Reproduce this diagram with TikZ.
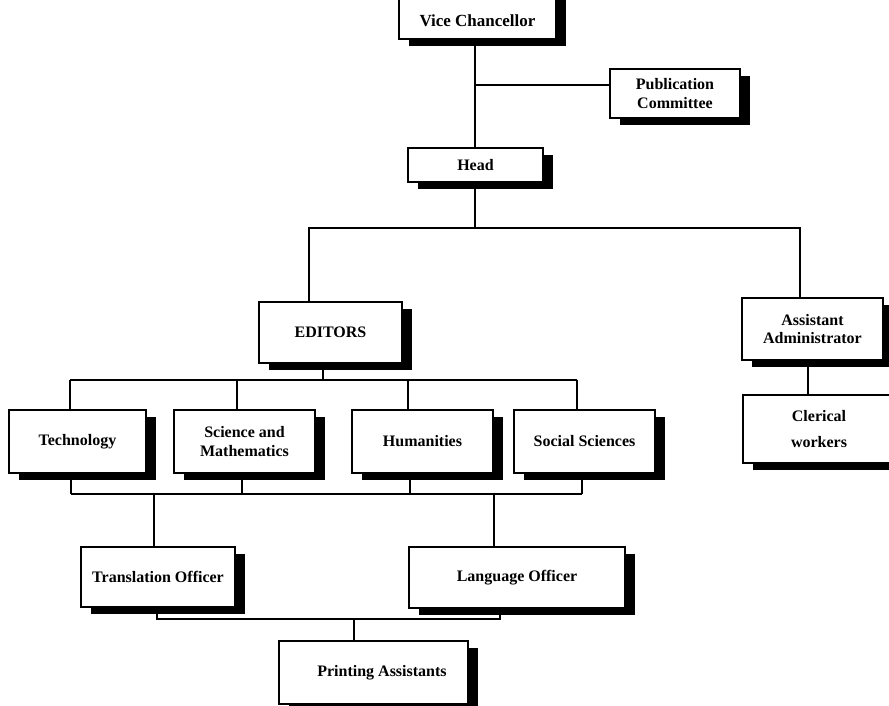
\documentclass[tikz,border=0pt]{standalone}
\usepackage{fontspec}
\setmainfont{Liberation Serif}
\usetikzlibrary{shadows}
\begin{document}
\begin{tikzpicture}[x=1pt,y=-1pt,
  unit/.style={draw, line width=1.6pt, fill=white, inner sep=0pt, align=center,
    font=\fontsize{16}{18.5}\selectfont\bfseries,
    general shadow={fill=black, shadow xshift=10pt, shadow yshift=-7pt}},
  link/.style={line width=1.5pt}]
\useasboundingbox (0,0) rectangle (889,706);
\clip (0,0) rectangle (889,706);

% top of the hierarchy
\node[unit, minimum width=157pt, minimum height=46pt, text height=22pt, font=\fontsize{17}{19}\selectfont\bfseries] (vc) at (477.5,16) {Vice Chancellor};
\node[unit, minimum width=130pt, minimum height=49pt] (pc) at (675,93.5) {Publication\\Committee};
\node[unit, minimum width=135pt, minimum height=34pt] (head) at (475.5,165) {Head};

% second level
\node[unit, minimum width=143pt, minimum height=61pt] (ed) at (330.5,332.5) {EDITORS};
\node[unit, minimum width=141pt, minimum height=62pt] (aa) at (812.5,329) {Assistant\\Administrator};
\node[unit, minimum width=152pt, minimum height=68pt] (cw) at (819,429) {Clerical\\[8pt]workers};

% editorial sections
\node[unit, minimum width=137pt, minimum height=63pt] (tech) at (77.5,441.5) {Technology};
\node[unit, minimum width=141pt, minimum height=63pt] (sci) at (244.5,441.5) {Science and\\Mathematics};
\node[unit, minimum width=141pt, minimum height=63pt] (hum) at (422.5,441.5) {Humanities};
\node[unit, minimum width=141pt, minimum height=63pt] (soc) at (584.5,441.5) {Social Sciences};

% officers and printing
\node[unit, minimum width=154pt, minimum height=60pt] (tr) at (158,577) {Translation Officer};
\node[unit, minimum width=216pt, minimum height=61pt] (lo) at (517,577.5) {Language Officer};
\node[unit, minimum width=189pt, minimum height=63pt] (pa) at (373.5,672.5) {\hspace*{17pt}Printing Assistants};

% junction points
\coordinate (j1) at (475,85);
\coordinate (j2) at (475,228);
\coordinate (edin) at (309,228);
\coordinate (aain) at (800,228);
\coordinate (edout) at (323,380);
\coordinate (b1) at (70,380);
\coordinate (b2) at (237,380);
\coordinate (b3) at (408,380);
\coordinate (b4) at (577,380);
\coordinate (c1) at (71,494);
\coordinate (c2) at (242,494);
\coordinate (c3) at (410,494);
\coordinate (c4) at (582,494);
\coordinate (ct) at (154,494);
\coordinate (cl) at (494,494);
\coordinate (d1) at (157,619);
\coordinate (d2) at (500,619);
\coordinate (dp) at (354,619);

% Vice Chancellor to Head, with the committee branch
\draw[link] (j1 |- vc.south) -- (j1 |- head.north);
\draw[link] (j1) -- (j1 -| pc.west);

% Head to the two branches
\draw[link] (head.south -| j2) -- (j2);
\draw[link] (edin |- ed.north) -- (edin) -- (aain) -- (aain |- aa.north);
\draw[link] (cw.north -| 808,0) -- (aa.south -| 808,0);

% Editors to the sections
\draw[link] (edout |- ed.south) -- (edout);
\draw[link] (b1) -- (b4);
\foreach \b/\n in {b1/tech, b2/sci, b3/hum, b4/soc}
  \draw[link] (\b) -- (\b |- \n.north);

% sections to the officers
\foreach \c/\n in {c1/tech, c2/sci, c3/hum, c4/soc}
  \draw[link] (\c |- \n.south) -- (\c);
\draw[link] (c1) -- (c4);
\draw[link] (ct) -- (ct |- tr.north);
\draw[link] (cl) -- (cl |- lo.north);

% officers to printing
\draw[link] (d1 |- tr.south) -- (d1) -- (d2) -- (d2 |- lo.south);
\draw[link] (dp) -- (dp |- pa.north);
\end{tikzpicture}
\end{document}
